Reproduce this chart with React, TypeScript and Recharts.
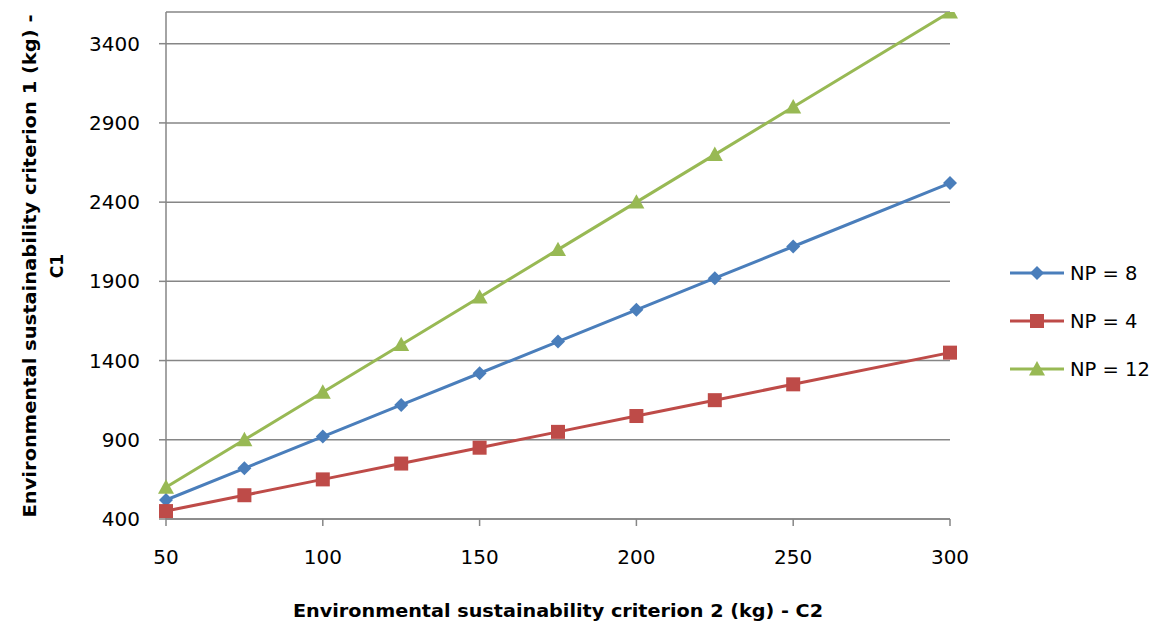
import React from "react";
import { ScatterChart, Scatter, XAxis, YAxis, CartesianGrid } from "recharts";

// x values (kg of C2)
const c2Values = [50, 75, 100, 125, 150, 175, 200, 225, 250, 300];
const np8 = [520, 720, 920, 1120, 1320, 1520, 1720, 1920, 2120, 2520];
const np4 = [450, 550, 650, 750, 850, 950, 1050, 1150, 1250, 1450];
const np12 = [600, 900, 1200, 1500, 1800, 2100, 2400, 2700, 3000, 3600];

const xTicks = [50, 100, 150, 200, 250, 300];
const yTicks = [400, 900, 1400, 1900, 2400, 2900, 3400];

const seriesInfo = [
  { name: "NP = 8", values: np8, color: "#4A7EBB", marker: "diamond" },
  { name: "NP = 4", values: np4, color: "#BE4B48", marker: "square" },
  { name: "NP = 12", values: np12, color: "#98B954", marker: "triangle" },
];

const xTitle = "Environmental sustainability criterion 2 (kg) - C2";
const yTitle1 = "Environmental sustainability criterion 1 (kg) -";
const yTitle2 = "C1";

const font = "'DejaVu Sans', 'Liberation Sans', sans-serif";
const axisColor = "#868686";

function Marker({ cx, cy, kind, color }: any) {
  if (cx == null || cy == null) return null;
  if (kind === "diamond") {
    const r = 7;
    return (
      <polygon
        points={`${cx},${cy - r} ${cx + r},${cy} ${cx},${cy + r} ${cx - r},${cy}`}
        fill={color}
      />
    );
  }
  if (kind === "square") {
    const r = 7;
    return <rect x={cx - r} y={cy - r} width={r * 2} height={r * 2} fill={color} />;
  }
  const r = 8;
  return (
    <polygon
      points={`${cx},${cy - r} ${cx + r},${cy + r * 0.8} ${cx - r},${cy + r * 0.8}`}
      fill={color}
    />
  );
}

function LegendBox() {
  return (
    <svg
      width={160}
      height={150}
      style={{ position: "absolute", left: 1005, top: 255, overflow: "visible" }}
    >
      {seriesInfo.map((s, i) => {
        const y = 18 + i * 48;
        return (
          <g key={s.name}>
            <line x1={5} x2={59} y1={y} y2={y} stroke={s.color} strokeWidth={3} />
            <Marker cx={32} cy={y} kind={s.marker} color={s.color} />
            <text x={65} y={y + 7} fontFamily={font} fontSize={19.5} fill="#000">
              {s.name}
            </text>
          </g>
        );
      })}
    </svg>
  );
}

function YTitle() {
  const cy = 266;
  return (
    <g fontFamily={font} fontWeight="bold" fontSize={17} fill="#000">
      <text
        x={30}
        y={cy}
        textAnchor="middle"
        dominantBaseline="central"
        textLength={503}
        lengthAdjust="spacingAndGlyphs"
        transform={`rotate(-90, 30, ${cy})`}
      >
        {yTitle1}
      </text>
      <text
        x={57}
        y={cy}
        textAnchor="middle"
        dominantBaseline="central"
        transform={`rotate(-90, 57, ${cy})`}
      >
        {yTitle2}
      </text>
    </g>
  );
}

function XTitle() {
  return (
    <text
      x={558}
      y={611}
      textAnchor="middle"
      dominantBaseline="central"
      fontFamily={font}
      fontWeight="bold"
      fontSize={17}
      fill="#000"
      textLength={530}
      lengthAdjust="spacingAndGlyphs"
    >
      {xTitle}
    </text>
  );
}

export default function App() {
  const data = seriesInfo.map((s) =>
    s.values.map((v, i) => ({ x: c2Values[i], y: v }))
  );

  return (
    <div
      style={{
        position: "absolute",
        left: 0,
        top: 0,
        width: 1161,
        height: 628,
        background: "#fff",
      }}
    >
      <ScatterChart
        width={1161}
        height={628}
        margin={{ top: 12, right: 211, left: 0, bottom: 0 }}
      >
        <CartesianGrid vertical={false} stroke={axisColor} strokeWidth={1.5} />
        <XAxis
          type="number"
          dataKey="x"
          domain={[50, 300]}
          ticks={xTicks}
          height={109}
          stroke={axisColor}
          strokeWidth={1.5}
          tickSize={7}
          tick={{ fill: "#000", fontSize: 20, fontFamily: font, dy: 22 }}
          label={<XTitle />}
        />
        <YAxis
          type="number"
          dataKey="y"
          domain={[400, 3600]}
          ticks={yTicks}
          width={166}
          allowDataOverflow
          stroke={axisColor}
          strokeWidth={1.5}
          tickSize={7}
          tick={{ fill: "#000", fontSize: 20, fontFamily: font, dx: -17 }}
          label={<YTitle />}
        />
        {seriesInfo.map((s, i) => (
          <Scatter
            key={s.name}
            name={s.name}
            data={data[i]}
            fill={s.color}
            line={{ stroke: s.color, strokeWidth: 3 }}
            lineType="joint"
            isAnimationActive={false}
            shape={(props: any) => (
              <Marker cx={props.cx} cy={props.cy} kind={s.marker} color={s.color} />
            )}
          />
        ))}
      </ScatterChart>
      <LegendBox />
    </div>
  );
}
